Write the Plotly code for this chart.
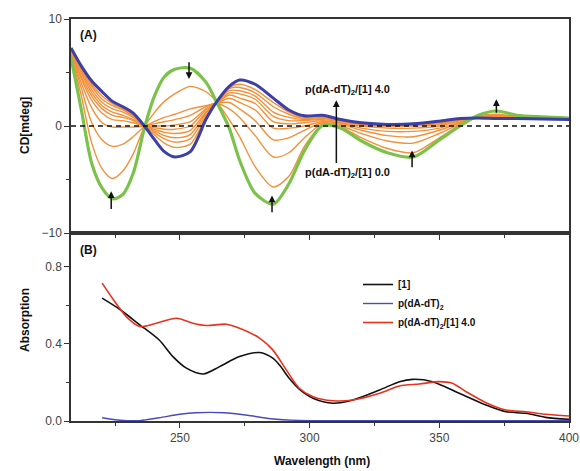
import plotly.graph_objects as go

# ---------------- CD titration (panel A) ----------------
CD_WAVELENGTH = [208, 212, 216, 220, 224, 228, 232, 236.3, 240, 244, 248, 254, 260, 264, 269, 273,
                 279, 286, 292, 298, 305, 312, 320, 330, 340, 350, 358, 365, 372, 380, 390, 400]

CD_RATIO_0 = [6.4, 1.5, -3.5, -5.8, -6.8, -6.4, -4.4, -0.2, 2.7, 4.6, 5.3, 5.4, 4.1, 2.3, -0.2, -3.2,
              -6.3, -7.3, -5.4, -2.3, 0.05, -0.2, -1.4, -2.5, -2.9, -1.3, 0.0, 1.0, 1.4, 1.0, 0.85, 0.75]

CD_RATIO_4 = [7.3, 5.6, 4.2, 3.2, 2.3, 1.8, 1.2, 0.0, -1.2, -2.4, -2.9, -2.4, 0.6, 2.2, 3.7, 4.3,
              3.9, 2.6, 1.5, 0.95, 1.0, 0.6, 0.3, 0.15, 0.2, 0.45, 0.7, 0.75, 0.7, 0.7, 0.65, 0.6]

CD_STEP_1 = [6.6, 2.8, -1.6, -4.0, -4.9, -4.2, -2.6, -0.1, 1.2, 2.3, 3.0, 3.7, 3.2, 2.3, 0.6, -1.0,
             -3.8, -5.7, -4.7, -1.9, 0.1, -0.1, -1.1, -2.1, -2.5, -1.1, 0.1, 0.9, 1.1, 0.9, 0.8, 0.7]
CD_STEP_2 = [6.7, 3.5, 0.3, -1.3, -1.9, -1.7, -1.0, -0.05, 0.4, 0.8, 1.1, 1.6, 1.9, 2.1, 1.6, 0.8,
             -0.9, -2.9, -2.5, -1.1, 0.2, 0.0, -0.7, -1.4, -1.6, -0.7, 0.2, 0.85, 1.0, 0.85, 0.78, 0.68]
CD_STEP_3 = [6.8, 4.0, 1.7, 0.3, -0.1, -0.1, -0.1, 0.0, 0.2, 0.4, 0.6, 1.0, 1.8, 2.1, 2.2, 1.6,
             0.5, -1.3, -1.1, -0.4, 0.3, 0.15, -0.4, -0.9, -1.0, -0.4, 0.3, 0.8, 0.95, 0.8, 0.75, 0.66]
CD_STEP_4 = [6.9, 4.4, 2.4, 1.2, 0.6, 0.5, 0.3, 0.0, 0.0, 0.0, 0.1, 0.4, 1.6, 2.1, 2.6, 2.2,
             1.5, -0.2, -0.2, 0.0, 0.4, 0.25, -0.2, -0.5, -0.5, -0.2, 0.4, 0.8, 0.9, 0.8, 0.72, 0.65]
CD_STEP_5 = [7.0, 4.6, 2.8, 1.6, 1.0, 0.8, 0.5, 0.0, -0.15, -0.3, -0.3, 0.0, 1.5, 2.1, 2.9, 2.6,
             2.1, 0.4, 0.2, 0.3, 0.5, 0.3, 0.0, -0.2, -0.2, 0.0, 0.5, 0.8, 0.85, 0.78, 0.7, 0.64]
CD_STEP_6 = [7.0, 4.9, 3.1, 1.9, 1.3, 1.0, 0.6, 0.0, -0.3, -0.6, -0.7, -0.4, 1.3, 2.1, 3.1, 3.0,
             2.5, 0.9, 0.5, 0.5, 0.6, 0.4, 0.1, -0.05, 0.0, 0.1, 0.55, 0.8, 0.8, 0.76, 0.7, 0.63]
CD_STEP_7 = [7.1, 5.1, 3.4, 2.2, 1.6, 1.3, 0.8, 0.0, -0.45, -0.9, -1.1, -0.8, 1.2, 2.1, 3.3, 3.3,
             2.8, 1.3, 0.8, 0.6, 0.7, 0.45, 0.15, 0.05, 0.1, 0.2, 0.6, 0.78, 0.8, 0.75, 0.68, 0.62]
CD_STEP_8 = [7.2, 5.3, 3.7, 2.5, 1.9, 1.5, 0.9, 0.0, -0.6, -1.2, -1.5, -1.2, 1.0, 2.1, 3.5, 3.6,
             3.1, 1.8, 1.1, 0.7, 0.8, 0.5, 0.2, 0.1, 0.15, 0.3, 0.65, 0.76, 0.75, 0.72, 0.67, 0.61]
CD_STEP_9 = [7.2, 5.5, 3.9, 2.8, 2.1, 1.6, 1.0, 0.0, -0.8, -1.6, -2.0, -1.7, 0.8, 2.2, 3.6, 3.9,
             3.4, 2.2, 1.3, 0.8, 0.9, 0.55, 0.25, 0.12, 0.2, 0.4, 0.7, 0.75, 0.75, 0.7, 0.66, 0.6]

# arrows showing the direction of change (tail -> tip), in nm / mdeg
ARROW_WL = [223.5, 253.5, 285.5, 339.5, 372.0, 310.3]
ARROW_TAIL = [-7.9, 6.1, -8.2, -4.0, 1.1, -3.6]
ARROW_TIP = [-6.1, 4.4, -6.5, -2.3, 2.5, 2.4]

# ---------------- UV absorption (panel B) ----------------
ABS_WL_LIGAND = [220, 227, 234.5, 242, 247.3, 252.5, 259, 265.3, 273, 280.7, 285.8, 288.4, 292.2,
                 296, 301.3, 309, 316.7, 327, 334.6, 339.7, 347.4, 357.7, 368, 375.7, 383.4, 391, 400]
ABS_LIGAND = [0.637, 0.577, 0.499, 0.42, 0.334, 0.274, 0.244, 0.282, 0.334, 0.355, 0.326, 0.29, 0.22,
              0.165, 0.118, 0.092, 0.109, 0.161, 0.204, 0.216, 0.204, 0.144, 0.083, 0.048, 0.04, 0.019, 0.009]

ABS_WL_DNA = [220, 227, 234.5, 242, 250, 256, 267, 276, 285, 296, 320, 350, 400]
ABS_DNA = [0.017, 0.004, 0.002, 0.017, 0.035, 0.043, 0.043, 0.03, 0.012, 0.003, 0.002, 0.002, 0.002]

ABS_WL_COMPLEX = [220, 224.3, 229.4, 234.5, 240.9, 248.7, 255, 260.2, 267.9, 273, 280.7, 285.8, 291,
                  296, 301.3, 309, 316.7, 327, 334.6, 342.3, 350, 355, 360.3, 368, 375.7, 383.4, 391, 400]
ABS_COMPLEX = [0.715, 0.63, 0.54, 0.49, 0.507, 0.533, 0.507, 0.495, 0.502, 0.481, 0.43, 0.369, 0.265,
               0.17, 0.126, 0.105, 0.109, 0.144, 0.182, 0.192, 0.204, 0.196, 0.152, 0.095, 0.057, 0.048, 0.035, 0.026]

X_RANGE = [208, 400]
CD_RANGE = [-10, 10]
ABS_RANGE = [0, 0.975]

GREEN = "#7cc24a"
BLUE = "#3b3fa6"
ORANGE = "#f2913a"
FONT = "Liberation Sans, Arial, sans-serif"
AXIS_COLOR = "#333333"

fig = go.Figure()

# intermediate titration steps (orange), drawn under the two end spectra
for steps in [CD_STEP_1, CD_STEP_2, CD_STEP_3, CD_STEP_4, CD_STEP_5,
              CD_STEP_6, CD_STEP_7, CD_STEP_8, CD_STEP_9]:
    fig.add_trace(go.Scatter(x=CD_WAVELENGTH, y=steps, mode="lines", xaxis="x2", yaxis="y2",
                             line=dict(color=ORANGE, width=1.4, shape="spline", smoothing=0.8),
                             showlegend=False, hoverinfo="skip"))
fig.add_trace(go.Scatter(x=CD_WAVELENGTH, y=CD_RATIO_0, mode="lines", xaxis="x2", yaxis="y2",
                         line=dict(color=GREEN, width=3.2, shape="spline", smoothing=0.8),
                         showlegend=False))
fig.add_trace(go.Scatter(x=CD_WAVELENGTH, y=CD_RATIO_4, mode="lines", xaxis="x2", yaxis="y2",
                         line=dict(color=BLUE, width=3.0, shape="spline", smoothing=0.8),
                         showlegend=False))

# absorption spectra
fig.add_trace(go.Scatter(x=ABS_WL_LIGAND, y=ABS_LIGAND, mode="lines", name="[1]",
                         line=dict(color="#111111", width=1.6, shape="spline", smoothing=0.8)))
fig.add_trace(go.Scatter(x=ABS_WL_DNA, y=ABS_DNA, mode="lines", name="p(dA-dT)<sub>2</sub>",
                         line=dict(color="#4a4aba", width=1.4, shape="spline", smoothing=0.8)))
fig.add_trace(go.Scatter(x=ABS_WL_COMPLEX, y=ABS_COMPLEX, mode="lines",
                         name="p(dA-dT)<sub>2</sub>/[1] 4.0",
                         line=dict(color="#e8321e", width=1.6, shape="spline", smoothing=0.8)))

split = 188 / 402

axis_common = dict(showline=True, linecolor=AXIS_COLOR, linewidth=1.5, mirror=True,
                   ticks="outside", ticklen=5, tickwidth=1.3, tickcolor=AXIS_COLOR,
                   showgrid=False, zeroline=False,
                   tickfont=dict(family=FONT, size=12, color="#444444"))

annotations = []
for wl, tail, tip in zip(ARROW_WL, ARROW_TAIL, ARROW_TIP):
    annotations.append(dict(x=wl, y=tip, ax=wl, ay=tail, xref="x2", yref="y2",
                            axref="x2", ayref="y2", text="", showarrow=True,
                            arrowhead=2, arrowsize=0.9, arrowwidth=1.5, arrowcolor="#111111"))

label_font = dict(family=FONT, size=11, color="#111111", weight="bold")
annotations += [
    dict(x=303, y=90, xref="paper", yref="paper", text="p(dA-dT)<sub>2</sub>/[1] 4.0",
         showarrow=False, xanchor="left", yanchor="middle", font=label_font),
    dict(x=303, y=173, xref="paper", yref="paper", text="p(dA-dT)<sub>2</sub>/[1] 0.0",
         showarrow=False, xanchor="left", yanchor="middle", font=label_font),
    dict(x=78, y=35, text="(A)", showarrow=False, xanchor="left", yanchor="middle",
         font=dict(family=FONT, size=12, color="#111111", weight="bold")),
    dict(x=78, y=250, text="(B)", showarrow=False, xanchor="left", yanchor="middle",
         font=dict(family=FONT, size=12, color="#111111", weight="bold")),
    dict(x=25, y=126, text="CD[mdeg]", textangle=-90, showarrow=False,
         xanchor="center", yanchor="middle",
         font=dict(family=FONT, size=12, color="#111111", weight="bold")),
    dict(x=25, y=320, text="Absorption", textangle=-90, showarrow=False,
         xanchor="center", yanchor="middle",
         font=dict(family=FONT, size=12, color="#111111", weight="bold")),
    dict(x=322, y=461, text="Wavelength (nm)", showarrow=False,
         xanchor="center", yanchor="middle",
         font=dict(family=FONT, size=12, color="#111111", weight="bold")),
]

# convert pixel-placed labels into paper coordinates
L, R, T, B = 71, 11, 19, 50
W, H = 580, 471
pw, ph = W - L - R, H - T - B
for a in annotations:
    if a.get("xref") in (None, "paper") and "axref" not in a:
        a["xref"] = "paper"
        a["yref"] = "paper"
        a["x"] = (a["x"] - L) / pw
        a["y"] = 1 - (a["y"] - T) / ph

fig.update_layout(
    width=W, height=H,
    margin=dict(l=L, r=R, t=T, b=B, autoexpand=False),
    paper_bgcolor="white", plot_bgcolor="white",
    font=dict(family=FONT, size=12, color="#333333"),
    xaxis=dict(domain=[0, 1], anchor="y", range=X_RANGE, tick0=250, dtick=50,
               minor=dict(ticks="outside", ticklen=3, dtick=25, tick0=225, tickcolor=AXIS_COLOR),
               **axis_common),
    yaxis=dict(domain=[0, split], anchor="x", range=ABS_RANGE, tick0=0, dtick=0.4,
               tickformat=".1f",
               minor=dict(ticks="outside", ticklen=3, dtick=0.2, tick0=0, tickcolor=AXIS_COLOR),
               **axis_common),
    xaxis2=dict(domain=[0, 1], anchor="y2", range=X_RANGE, matches="x", tick0=250, dtick=50,
                showticklabels=False,
                minor=dict(ticks="outside", ticklen=3, dtick=25, tick0=225, tickcolor=AXIS_COLOR),
                **axis_common),
    yaxis2=dict(domain=[split, 1], anchor="x2", range=CD_RANGE, tick0=-10, dtick=10,
                minor=dict(ticks="outside", ticklen=3, dtick=5, tick0=-10, tickcolor=AXIS_COLOR),
                **axis_common),
    shapes=[dict(type="line", xref="x2 domain", yref="y2", x0=0, x1=1, y0=0, y1=0,
                 line=dict(color="#111111", width=1.6, dash="5px,4px"), layer="above")],
    legend=dict(x=(358 - L) / pw, y=1 - (270 - T) / ph, xanchor="left", yanchor="top",
                bgcolor="rgba(0,0,0,0)", borderwidth=0, itemwidth=30, tracegroupgap=0,
                font=dict(family=FONT, size=10, color="#111111", weight="bold")),
    annotations=annotations,
)

fig.write_html("out.html")
